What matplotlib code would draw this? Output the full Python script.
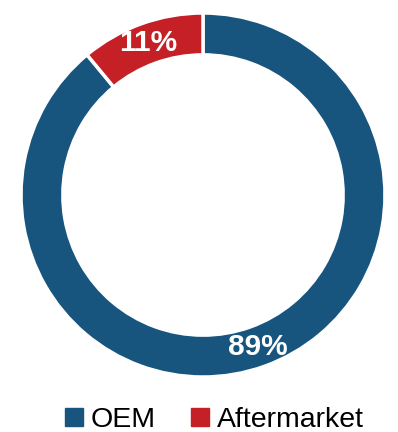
"""OEM / Aftermarket donut"""

import matplotlib
matplotlib.use("Agg")
import matplotlib.pyplot as plt
from matplotlib.lines import Line2D


labels = ["OEM", "Aftermarket"]
shares = [89, 11]
colors = ["#17557f", "#c42026"]

plt.rcParams["font.family"] = ["Liberation Sans", "DejaVu Sans"]

fig = plt.figure(figsize=(3.98, 4.32), dpi=100)
# ring centre ~(203, 195) px, outer radius ~182 px
ax = fig.add_axes([21 / 398, 55 / 432, 364 / 398, 364 / 432])

wedges, texts, autotexts = ax.pie(
    shares,
    colors=colors,
    startangle=90,
    counterclock=False,
    radius=1.0,
    autopct="%d%%",
    pctdistance=0.885,
    wedgeprops=dict(width=0.23, edgecolor="white", linewidth=2.5),
    textprops=dict(color="white", fontsize=21.5, fontweight="bold"),
)
ax.set_xlim(-1, 1)
ax.set_ylim(-1, 1)
ax.axis("off")

handles = [
    Line2D([], [], marker="s", linestyle="none", markersize=12.5,
           markerfacecolor=c, markeredgecolor=c)
    for c in colors
]
fig.legend(
    handles, labels,
    loc="center", bbox_to_anchor=(0.534, 0.027), ncol=2,
    frameon=False, fontsize=20.5, handletextpad=0.15,
    columnspacing=1.1, handlelength=0.9,
)

fig.savefig("out.png", dpi=100)
